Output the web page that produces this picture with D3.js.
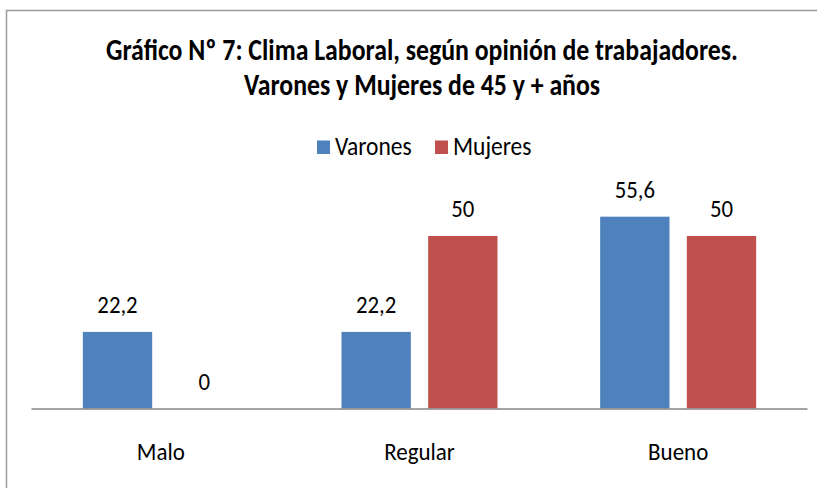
<!DOCTYPE html>
<html>
<head>
<meta charset="utf-8">
<script src="https://cdn.jsdelivr.net/npm/d3@7"></script>
<style>
  body { margin: 0; background: #fff; }
  text { font-family: Carlito, Calibri, "Liberation Sans Narrow", sans-serif; fill: #000; }
</style>
</head>
<body>
<div id="chart"></div>
<script>
const categories = ['Malo', 'Regular', 'Bueno']
const series = ['Varones', 'Mujeres']
const varones = [22.2, 22.2, 55.6]
const mujeres = [0, 50, 50]
const colors = ['#4F81BD', '#C0504D']

const width = 817
const height = 488
const baseline = 408.5
const stretch = 1.1

const svg = d3.select('#chart').append('svg').attr('width', width).attr('height', height)

// frame (only top and left edges are visible in the crop)
svg.append('path').attr('d', 'M6.5,488 V10.5 H817').attr('fill', 'none').attr('stroke', '#9a9a9a').attr('stroke-width', 1.5)

// text helper, slightly taller glyphs like the original
function label(parent, x, y, str, size, k) {
  return parent.append('text')
    .attr('transform', `translate(${x},${y}) scale(1,${k || stretch})`)
    .attr('font-size', size)
    .text(str)
}

label(svg, 422, 60, 'Gráfico Nº 7: Clima Laboral, según opinión de trabajadores.', 25.8, 1.18)
  .attr('text-anchor', 'middle').attr('font-weight', 'bold')
label(svg, 422, 95, 'Varones y Mujeres de 45 y + años', 25.8, 1.18)
  .attr('text-anchor', 'middle').attr('font-weight', 'bold')

const x0 = d3.scaleBand().domain(categories).range([31.5, 807.5])
const x1 = d3.scaleBand().domain(series).range([0, 156]).paddingInner(0.2)
const y = d3.scaleLinear().domain([0, 60]).range([baseline, baseline - 207])

const data = categories.map((c, i) => ({ cat: c, values: [varones[i], mujeres[i]] }))

const groups = svg.selectAll('.grp').data(data).enter().append('g')
  .attr('class', 'grp')
  .attr('transform', d => `translate(${x0(d.cat) + (x0.bandwidth() - 156) / 2}, 0)`)

groups.selectAll('rect').data(d => d.values.map((v, j) => ({ s: series[j], v, j }))).enter()
  .append('rect')
  .attr('x', d => x1(d.s))
  .attr('width', x1.bandwidth())
  .attr('y', d => y(d.v))
  .attr('height', d => baseline - y(d.v))
  .attr('fill', d => colors[d.j])

groups.each(function (d) {
  const g = d3.select(this)
  d.values.forEach((v, j) => {
    label(g, x1(series[j]) + x1.bandwidth() / 2, y(v) - 19, String(v).replace('.', ','), 22.8)
      .attr('text-anchor', 'middle')
  })
})

// axis
const xAxis = d3.axisBottom(x0).tickSize(0).tickPadding(0)
const axisG = svg.append('g').attr('transform', `translate(0, ${baseline})`).call(xAxis)
axisG.select('.domain').attr('d', 'M31.5,0.5H807.5').attr('stroke', '#868686').attr('stroke-width', 1.3)
axisG.selectAll('.tick text').remove()
axisG.selectAll('.tick').each(function (d) {
  label(d3.select(this), 0, 51.5, d, 23).attr('text-anchor', 'middle')
})

// legend
const legendX = [317, 435]
series.forEach((s, i) => {
  svg.append('rect').attr('x', legendX[i]).attr('y', 140.5).attr('width', 13).attr('height', 13.5).attr('fill', colors[i])
  label(svg, legendX[i] + 18, 155, s, 23.5)
})
</script>
</body>
</html>
